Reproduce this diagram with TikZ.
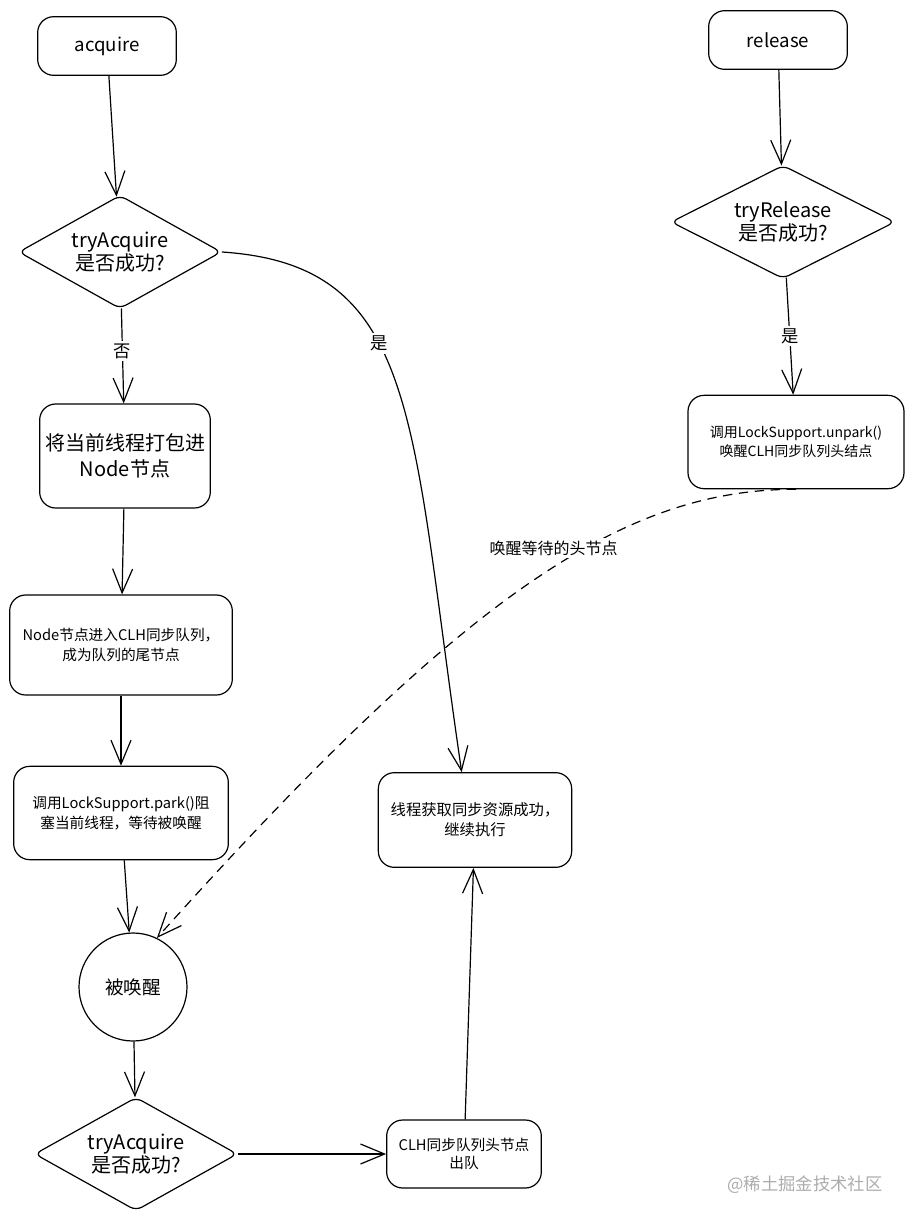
\documentclass[tikz,border=0pt]{standalone}
\usepackage{fontspec}
\setmainfont{Noto Sans CJK SC}
\usetikzlibrary{positioning, shapes.geometric, arrows.meta}
\tikzset{>={Straight Barb[length=18pt,width=15pt]}}
\tikzset{
    block/.style={rectangle,draw,rounded corners=12pt,align=center,line width=0.9pt,inner sep=2pt},
    decision/.style={diamond,draw,rounded corners=5pt,aspect=1.8,align=center,line width=0.9pt,inner sep=0pt,
        minimum width=152pt,minimum height=85pt,font=\fontsize{15}{17}\selectfont},
    roundstate/.style={circle,draw,line width=0.9pt,minimum size=81pt,inner sep=0pt,font=\fontsize{14}{16}\selectfont},
    edgelabel/.style={rectangle,draw=none,fill=white,inner sep=2pt,font=\fontsize{13}{15}\selectfont},
    directed/.style={->,line width=0.9pt},
}

\begin{document}
\begin{tikzpicture}[x=0.75pt,y=-0.75pt]
            \useasboundingbox (0,0) rectangle (913,1224);
            \node[block,minimum width=104pt,minimum height=44pt,font=\fontsize{14}{16}\selectfont] (acq) at (107,46) {acquire};
            \node[block,minimum width=104pt,minimum height=44pt,font=\fontsize{14}{16}\selectfont] (rel) at (778,40) {release};
            \node[decision] (try1) at (120,252) {tryAcquire\\是否成功?};
            \node[decision,minimum width=168pt] (tryrel) at (783,222) {tryRelease\\是否成功?};
            \node[block,minimum width=128pt,minimum height=78pt,font=\fontsize{15}{19}\selectfont] (pack) at (125,456) {将当前线程打包进\\Node节点};
            \node[block,minimum width=167pt,minimum height=75pt,font=\fontsize{11}{15}\selectfont] (enq) at (121,645) {Node节点进入CLH同步队列，\\成为队列的尾节点};
            \node[block,minimum width=161pt,minimum height=70pt,font=\fontsize{11}{15}\selectfont] (park) at (121,813) {调用LockSupport.park()阻\\塞当前线程，等待被唤醒};
            \node[roundstate] (woken) at (133,987) {被唤醒};
            \node[decision] (try2) at (136,1154) {tryAcquire\\是否成功?};
            \node[block,minimum width=116pt,minimum height=51pt,font=\fontsize{11}{14}\selectfont] (deq) at (464,1154) {CLH同步队列头节点\\出队};
            \node[block,minimum width=145pt,minimum height=71pt,font=\fontsize{11.5}{15}\selectfont] (succ) at (475,820) {线程获取同步资源成功，\\继续执行};
            \node[block,minimum width=162pt,minimum height=70pt,font=\fontsize{10.5}{14}\selectfont] (unpark) at (796,442) {调用LockSupport.unpark()\\唤醒CLH同步队列头结点};
            \node[text=gray!65,font=\fontsize{13}{15}\selectfont] (mark) at (805,1185) {@稀土掘金技术社区};
            \draw[directed] (acq) -- (try1);
            \draw[directed] (try1) -- node[edgelabel,pos=0.45] {否} (pack);
            \draw[directed] (pack) -- (enq);
            \draw[directed] (enq) -- (park);
            \draw[directed] (park) -- (woken);
            \draw[directed] (woken) -- (try2);
            \draw[directed] (try2) -- (deq);
            \draw[directed] (deq) -- (succ);
            \draw[directed] (try1.east) .. controls (420,265) and (410,420) .. node[edgelabel,pos=0.41] {是} ([xshift=-10pt]succ.north);
            \draw[directed] (rel) -- (tryrel);
            \draw[directed] (tryrel) -- node[edgelabel] {是} (unpark);
            \draw[directed,dashed,dash pattern=on 7pt off 5pt] (unpark.south) .. controls (620,489) and (460,600) .. node[edgelabel,pos=0.45,yshift=14pt,font=\fontsize{12}{14}\selectfont] {唤醒等待的头节点} (woken.64);
        \end{tikzpicture}
\end{document}
